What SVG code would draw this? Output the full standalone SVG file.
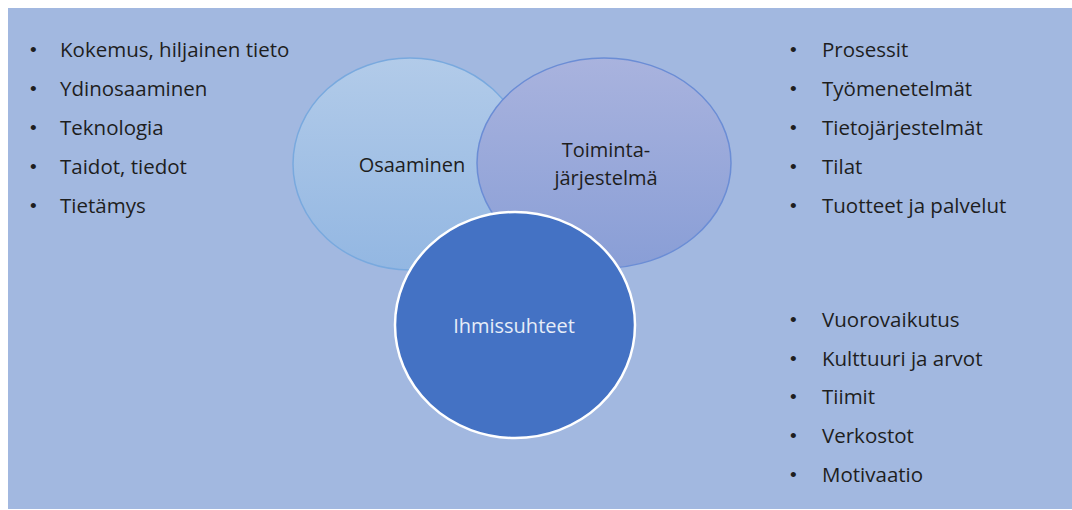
<svg xmlns="http://www.w3.org/2000/svg" width="1072" height="510" viewBox="0 0 1072 510">
  <defs>
    <linearGradient id="gradOsa" x1="0" y1="0" x2="0" y2="1">
      <stop offset="0" stop-color="#b2cbe9"/>
      <stop offset="1" stop-color="#93b7e2"/>
    </linearGradient>
    <linearGradient id="gradToi" x1="0" y1="0" x2="0" y2="1">
      <stop offset="0" stop-color="#a9b3de"/>
      <stop offset="1" stop-color="#899ed6"/>
    </linearGradient>
    <style>
      .list { font-family: "Open Sans", Lato, "Liberation Sans", sans-serif; font-size: 20.5px; fill: #1e1e1e; }
      .bullet { font-family: "Liberation Sans", sans-serif; font-size: 19px; fill: #1e1e1e; }
      .label { font-family: "Open Sans", Lato, "Liberation Sans", sans-serif; font-size: 20px; fill: #1e1e1e; text-anchor: middle; }
      .label-light { fill: #e6edf8; }
    </style>
  </defs>

  <!-- backdrop -->
  <rect x="0" y="0" width="1072" height="510" fill="#ffffff"/>
  <rect x="8" y="8" width="1064" height="501" fill="#a2b8e0"/>

  <!-- connectors: none in this layout -->
  <g id="connectors"/>

  <g id="node-osaaminen">
    <ellipse cx="410" cy="164" rx="117" ry="106" fill="url(#gradOsa)" stroke="#79a9de" stroke-width="1.5"/>
    <text class="label" x="412" y="172">Osaaminen</text>
  </g>

  <g id="node-toimintajarjestelma">
    <ellipse cx="604" cy="163" rx="127" ry="105" fill="url(#gradToi)" stroke="#6b8dd5" stroke-width="1.5"/>
    <text class="label" x="606" y="157">Toiminta-</text>
    <text class="label" x="606" y="185">järjestelmä</text>
  </g>

  <g id="node-ihmissuhteet">
    <ellipse cx="515" cy="325" rx="120" ry="113" fill="#4472c4" stroke="#ffffff" stroke-width="2.5"/>
    <text class="label label-light" x="514" y="333">Ihmissuhteet</text>
  </g>

  <g id="list-osaaminen" class="list">
    <text class="bullet" x="30" y="56">•</text><text x="60" y="57">Kokemus, hiljainen tieto</text>
    <text class="bullet" x="30" y="95">•</text><text x="60" y="96">Ydinosaaminen</text>
    <text class="bullet" x="30" y="134">•</text><text x="60" y="135">Teknologia</text>
    <text class="bullet" x="30" y="173">•</text><text x="60" y="174">Taidot, tiedot</text>
    <text class="bullet" x="30" y="212">•</text><text x="60" y="213">Tietämys</text>
  </g>

  <g id="list-toimintajarjestelma" class="list">
    <text class="bullet" x="790" y="56">•</text><text x="822" y="57">Prosessit</text>
    <text class="bullet" x="790" y="95">•</text><text x="822" y="96">Työmenetelmät</text>
    <text class="bullet" x="790" y="134">•</text><text x="822" y="135">Tietojärjestelmät</text>
    <text class="bullet" x="790" y="173">•</text><text x="822" y="174">Tilat</text>
    <text class="bullet" x="790" y="212">•</text><text x="822" y="213">Tuotteet ja palvelut</text>
  </g>

  <g id="list-ihmissuhteet" class="list">
    <text class="bullet" x="790" y="326">•</text><text x="822" y="327">Vuorovaikutus</text>
    <text class="bullet" x="790" y="365">•</text><text x="822" y="366">Kulttuuri ja arvot</text>
    <text class="bullet" x="790" y="403">•</text><text x="822" y="404">Tiimit</text>
    <text class="bullet" x="790" y="442">•</text><text x="822" y="443">Verkostot</text>
    <text class="bullet" x="790" y="481">•</text><text x="822" y="482">Motivaatio</text>
  </g>
</svg>
